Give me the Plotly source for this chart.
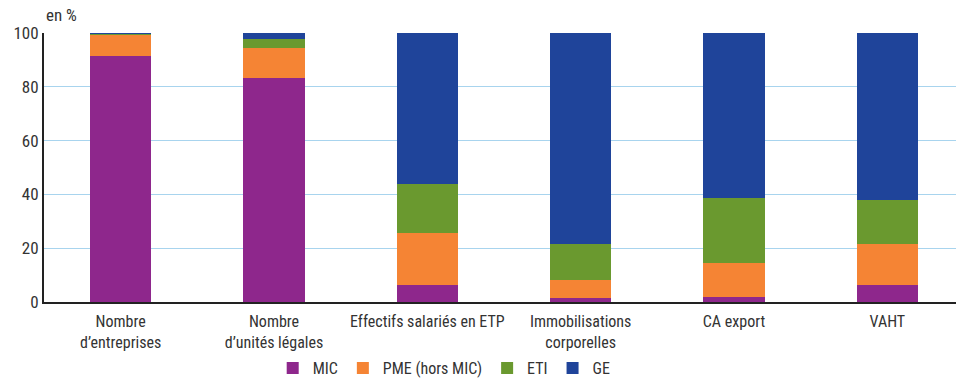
import plotly.graph_objects as go

categories = [
    "Nombre<br>d’entreprises",
    "Nombre<br>d’unités légales",
    "Effectifs salariés en ETP",
    "Immobilisations<br>corporelles",
    "CA export",
    "VAHT",
]
mic = [91.5, 83.3, 6.3, 1.5, 1.9, 6.3]
pme = [7.9, 11.1, 19.4, 6.7, 12.6, 15.3]
eti = [0.4, 3.4, 18.2, 13.4, 24.2, 16.3]
ge = [0.2, 2.2, 56.1, 78.4, 61.3, 62.1]

series = [
    ("MIC", mic, "#8e278c"),
    ("PME (hors MIC)", pme, "#f58434"),
    ("ETI", eti, "#6a992f"),
    ("GE", ge, "#1f449a"),
]

font = "Roboto Condensed, Arial Narrow, sans-serif"

fig = go.Figure()
for name, vals, color in series:
    fig.add_bar(x=categories, y=vals, name=name, marker_color=color,
                marker_line_width=0, width=0.4)

# the page body has an 8px margin, so the figure is drawn 8px in and down
fig.update_layout(
    barmode="stack",
    width=956, height=372,
    margin=dict(l=36, r=0, t=25, b=78),
    plot_bgcolor="white", paper_bgcolor="white",
    font=dict(family=font, size=16, color="#333333"),
    legend=dict(orientation="h", x=0.435, xanchor="center",
                yref="container", y=0.032, yanchor="middle",
                font=dict(size=16), traceorder="normal", itemwidth=30),
    showlegend=True,
)
fig.update_xaxes(range=[-0.5, 5.5], showline=True, linecolor="#222222", linewidth=2,
                 ticks="", tickfont=dict(size=16), automargin=False, ticklabelstandoff=4)
fig.update_yaxes(range=[0, 100], dtick=20, showline=True, linecolor="#222222", linewidth=2,
                 gridcolor="#a8d4ee", gridwidth=1, ticks="", tickfont=dict(size=17),
                 zeroline=False, automargin=False)
fig.add_annotation(text="en %", xref="paper", yref="paper", x=0, y=1.067,
                   xanchor="left", yanchor="middle", showarrow=False, font=dict(size=17))

fig.write_html("out.html")
